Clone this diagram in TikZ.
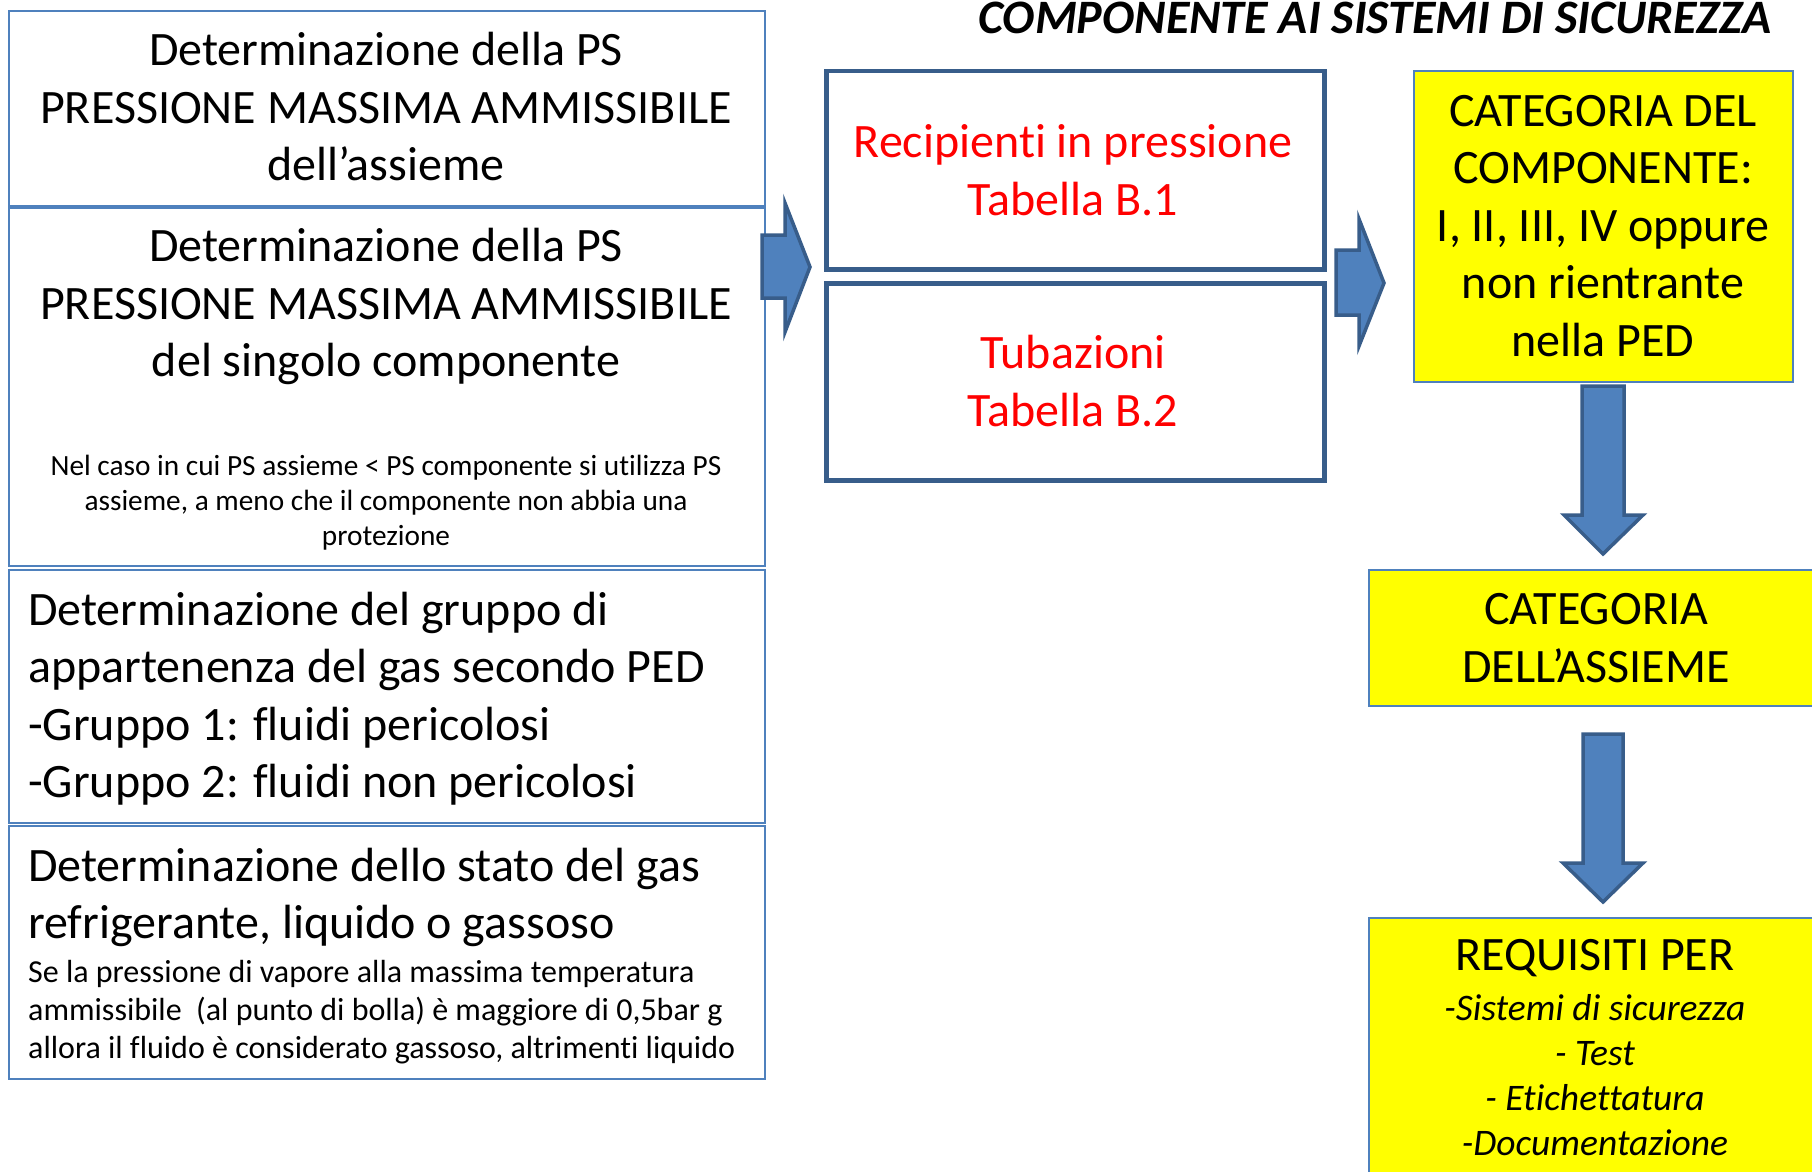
\documentclass[tikz,border=0pt]{standalone}
\usepackage{fontspec}
\setmainfont{Carlito}[Ligatures=NoCommon]
\definecolor{lb}{HTML}{4F81BD}
\definecolor{db}{HTML}{385D8A}
\definecolor{yel}{HTML}{FFFF00}
\definecolor{rd}{HTML}{FF0000}
\begin{document}
\begin{tikzpicture}[x=1pt,y=-1pt,
  lbox/.style={draw=lb, line width=1.8pt, anchor=north west, inner sep=0pt},
  rbox/.style={draw=db, line width=4.5pt, anchor=north west, inner sep=0pt},
  ybox/.style={draw=lb, fill=yel, line width=2pt, anchor=north west, inner sep=0pt},
  barrow/.style={draw=db, fill=lb, line width=3.5pt, line join=miter},
  bigtxt/.style={font=\fontsize{48}{57.5}\selectfont, inner sep=0pt, align=center},
  smalltxt/.style={font=\fontsize{29.3}{35}\selectfont, inner sep=0pt, align=center},
  midtxt/.style={font=\fontsize{32}{38}\selectfont, inner sep=0pt, align=left},
  ittxt/.style={font=\fontsize{37.5}{45}\selectfont\itshape, inner sep=0pt, align=center},
]
\useasboundingbox (0,0) rectangle (1812,1172);
\fill[white] (0,0) rectangle (1812,1172);

% title
\node[font=\fontsize{48}{56}\selectfont\bfseries\itshape, anchor=base, inner sep=0pt] (title) at (1375,34) {COMPONENTE AI SISTEMI DI SICUREZZA};

% left boxes
\node[lbox, minimum width=756pt, minimum height=195pt] (b1) at (8,10) {};
\node[lbox, minimum width=756pt, minimum height=358pt] (b2) at (8,207) {};
\node[lbox, minimum width=756pt, minimum height=253pt] (b3) at (8,569) {};
\node[lbox, minimum width=756pt, minimum height=253pt] (b4) at (8,825) {};

\node[bigtxt] (t1) at (386,107) {Determinazione della PS\\PRESSIONE MASSIMA AMMISSIBILE\\dell’assieme};
\node[bigtxt] (t2) at (386,306.5) {Determinazione della PS\\PRESSIONE MASSIMA AMMISSIBILE\\del singolo componente};
\node[smalltxt] (t2s) at (386,502.5) {Nel caso in cui PS assieme < PS componente si utilizza PS\\assieme, a meno che il componente non abbia una\\protezione};
\node[bigtxt, align=left, anchor=west] (t3) at (28,698.5) {Determinazione del gruppo di\\appartenenza del gas secondo PED\\-Gruppo 1: fluidi pericolosi\\-Gruppo 2: fluidi non pericolosi};
\node[bigtxt, align=left, anchor=west] (t4) at (28,897.5) {Determinazione dello stato del gas\\refrigerante, liquido o gassoso};
\node[midtxt, anchor=west] (t4s) at (28,1012) {Se la pressione di vapore alla massima temperatura\\ammissibile\ \ (al punto di bolla) è maggiore di 0,5bar g\\allora il fluido è considerato gassoso, altrimenti liquido};

% middle boxes
\node[rbox, minimum width=498pt, minimum height=198pt] (rec) at (824,69) {};
\node[rbox, minimum width=498pt, minimum height=197pt] (tub) at (824,281) {};
\node[bigtxt, text=rd] (trec) at (1073,170) {Recipienti in pressione\\Tabella B.1};
\node[bigtxt, text=rd] (ttub) at (1073,381) {Tubazioni\\Tabella B.2};

% yellow boxes
\node[ybox, minimum width=379pt, minimum height=311pt] (y1) at (1413,70) {};
\node[ybox, minimum width=470pt, minimum height=136pt] (y2) at (1368,569) {};
\node[ybox, minimum width=470pt, minimum height=280pt] (y3) at (1368,917) {};
\node[bigtxt] (ty1) at (1603,226) {CATEGORIA DEL\\COMPONENTE:\\I, II, III, IV oppure\\non rientrante\\nella PED};
\node[bigtxt] (ty2) at (1596,638) {CATEGORIA\\DELL’ASSIEME};
\node[bigtxt] (ty3) at (1595,958) {REQUISITI PER};
\node[ittxt] (ty3i) at (1595,1075.5) {-Sistemi di sicurezza\\- Test\\- Etichettatura\\-Documentazione};

% block arrows
\draw[barrow] (762,235) -- (785,235) -- (785,203) -- (810,267) -- (785,332) -- (785,298) -- (762,298) -- cycle;
\draw[barrow] (1336,250) -- (1359,250) -- (1359,219) -- (1384,283) -- (1359,346) -- (1359,315) -- (1336,315) -- cycle;
\draw[barrow] (1582,386) -- (1624,386) -- (1624,515) -- (1643,515) -- (1603,554) -- (1564,515) -- (1582,515) -- cycle;
\draw[barrow] (1583,734) -- (1623,734) -- (1623,863) -- (1643,863) -- (1603,902) -- (1563,863) -- (1583,863) -- cycle;
\end{tikzpicture}
\end{document}
